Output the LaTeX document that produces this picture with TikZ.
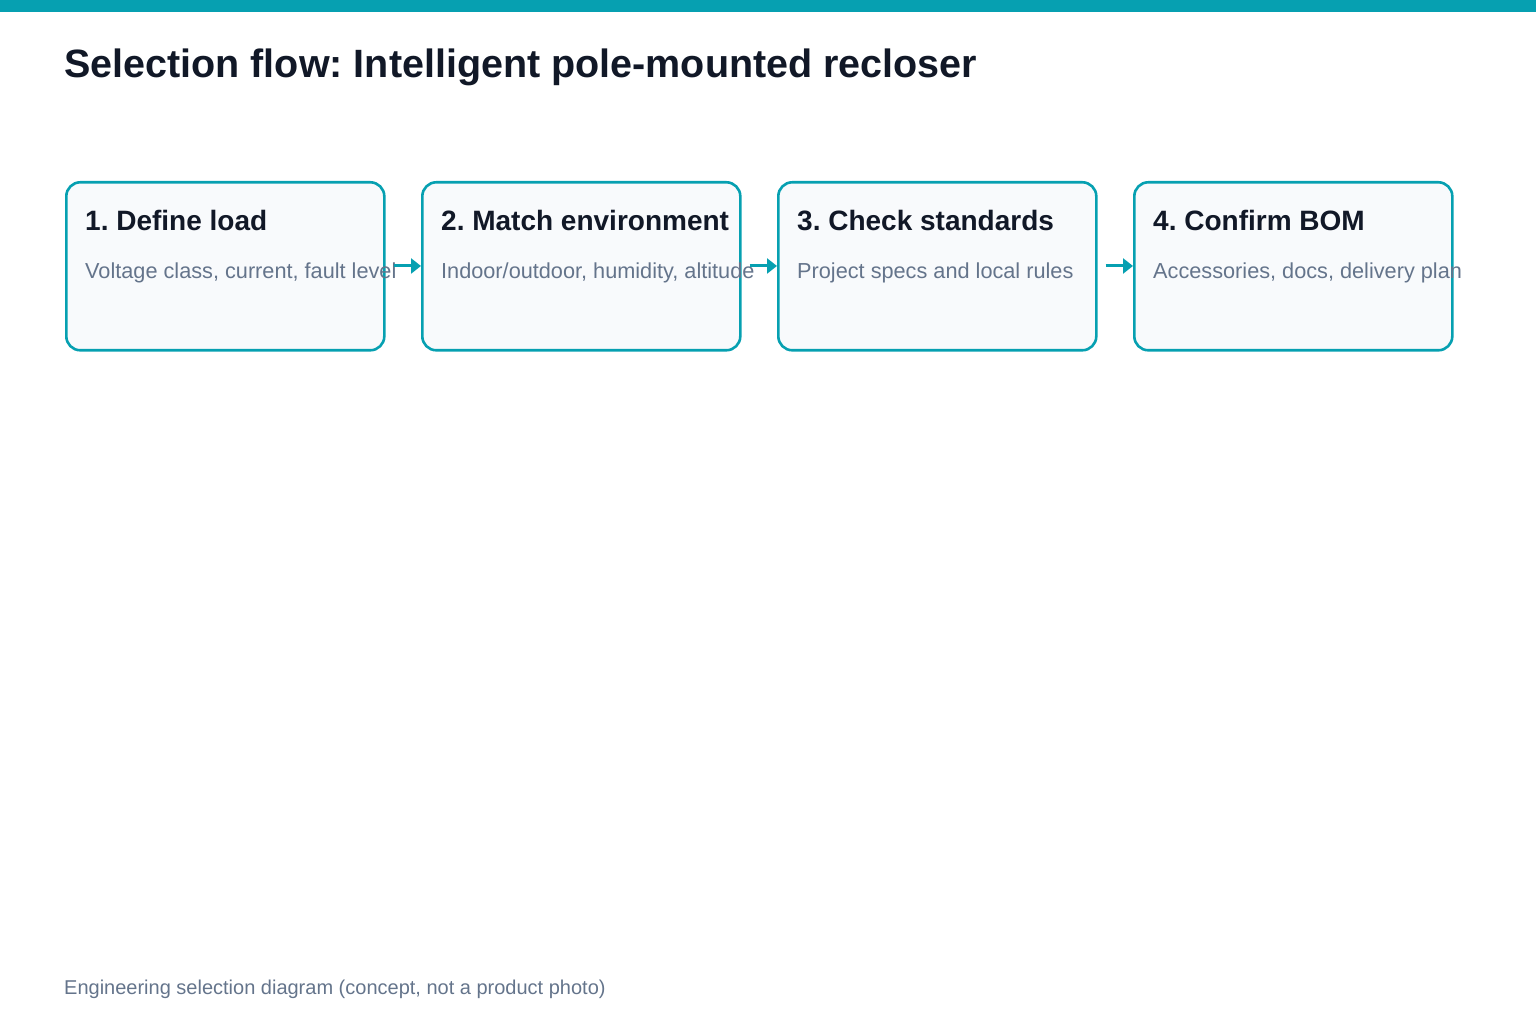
\documentclass[tikz,border=0pt]{standalone}
\usepackage{fontspec}
\setmainfont{Liberation Sans}
\usetikzlibrary{arrows.meta}
\definecolor{teal}{HTML}{06A0B1}
\definecolor{ink}{HTML}{111827}
\definecolor{muted}{HTML}{64748B}
\definecolor{boxfill}{HTML}{F8FAFC}
\tikzset{
  stepbox/.style={draw=teal, line width=2.6pt, fill=boxfill, rounded corners=14pt, minimum width=318pt, minimum height=168pt, inner sep=0pt, anchor=north west},
  steptitle/.style={anchor=base west, inner sep=0pt, text=ink, font=\fontsize{28}{32}\selectfont\bfseries},
  stepsub/.style={anchor=base west, inner sep=0pt, text=muted, font=\fontsize{21.7}{26}\selectfont},
  flow/.style={draw=teal, line width=3pt, -{Triangle[length=10pt,width=15pt]}, shorten <=8pt},
}
\begin{document}
\frenchspacing
\begin{tikzpicture}[x=1pt,y=1pt]
\useasboundingbox (0,0) rectangle (1536,1024);
\fill[teal] (0,1012) rectangle (1536,1024);
\node[anchor=base west, inner sep=0pt, text=ink, font=\fontsize{39.5}{46}\selectfont\bfseries] (title) at (64,946) {Selection flow: Intelligent pole-mounted recloser};

\node[stepbox] (b1) at (65,843) {};
\node[stepbox] (b2) at (421,843) {};
\node[stepbox] (b3) at (777,843) {};
\node[stepbox] (b4) at (1133,843) {};

\node[steptitle] (t1) at (85,793) {1. Define load};
\node[steptitle] (t2) at (441,793) {2. Match environment};
\node[steptitle] (t3) at (797,793) {3. Check standards};
\node[steptitle] (t4) at (1153,793) {4. Confirm BOM};

\node[stepsub] (s1) at (85,745) {Voltage class, current, fault level};
\node[stepsub] (s2) at (441,745) {Indoor/outdoor, humidity, altitude};
\node[stepsub] (s3) at (797,745) {Project specs and local rules};
\node[stepsub] (s4) at (1153,745) {Accessories, docs, delivery plan};

\draw[flow] (b1.east |- 0,758) -- (b2.west |- 0,758);
\draw[flow] (b2.east |- 0,758) -- (b3.west |- 0,758);
\draw[flow] (b3.east |- 0,758) -- (b4.west |- 0,758);

\node[anchor=base west, inner sep=0pt, text=muted, font=\fontsize{20}{24}\selectfont] (foot) at (64,29) {Engineering selection diagram (concept, not a product photo)};
\end{tikzpicture}
\end{document}
